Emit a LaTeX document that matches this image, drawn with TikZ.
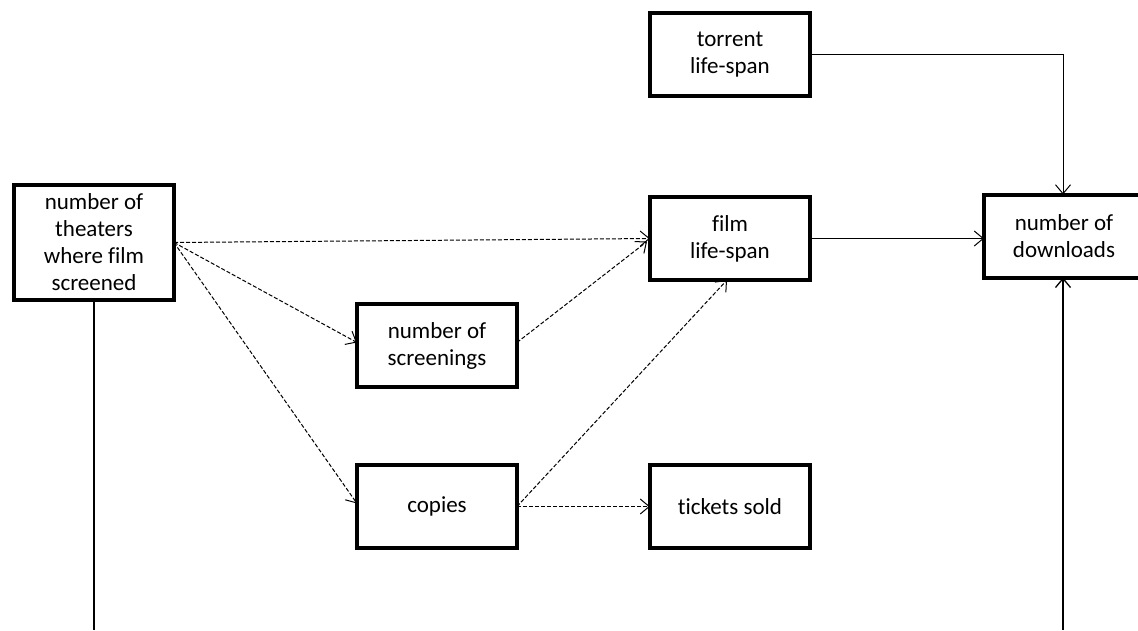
\documentclass[tikz,border=0pt]{standalone}
\usepackage{fontspec}
\setmainfont{Carlito}[Ligatures=NoCommon]
\usetikzlibrary{arrows.meta,positioning}

\begin{document}
\begin{tikzpicture}
\tikzstyle{block}=[rectangle, draw=black, line width=4pt, outer sep=0pt,
	inner sep=2pt, minimum width=160pt, minimum height=83pt, align=center,
	font=\fontsize{23}{27}\selectfont
]
\tikzstyle{flow}=[line width=1pt, -{Straight Barb[length=9pt,width=15pt]}]
\tikzstyle{dflow}=[flow, dash pattern=on 4pt off 2pt]
\useasboundingbox (0,0) rectangle (1138pt,-630pt);
\clip (0,0) rectangle (1138pt,-630pt);
\node[block,minimum height=115pt] (theaters) at (94pt,-242.5pt) {number of\\theaters\\where film\\screened};
\node[block,right=476pt of theaters,yshift=4pt] (film) {film\\life-span};
\node[block,above=101pt of film] (torrent) {torrent\\life-span};
\node[block,right=174pt of film,yshift=2.5pt] (downloads) {number of\\downloads};
\node[block,below=185pt of film] (tickets) {tickets sold};
\node[block,left=133pt of tickets] (copies) {copies};
\node[block,above=78pt of copies] (screenings) {number of\\screenings};
\coordinate (outL) at (theaters.south |- 0,-630pt);
\coordinate (outR) at (1063pt,-630pt);
\draw[dflow] (theaters.east) -- (film.west);
\draw[dflow] (theaters.east) -- ([yshift=3pt]screenings.west);
\draw[dflow] (theaters.east) -- ([yshift=3pt]copies.west);
\draw[dflow] ([yshift=3pt]screenings.east) -- ([xshift=-3pt,yshift=-3pt]film.west);
\draw[dflow] (copies.east) -- ([xshift=-3pt]film.south);
\draw[dflow] (copies.east) -- (tickets.west);
\draw[flow] (film.east) -- (film.east -| downloads.west);
\draw[flow] (torrent.east) -| ([xshift=-1pt]downloads.north);
\draw[line width=1.3pt] (theaters.south) -- (outL);
\draw[flow,line width=1.3pt] (outR) -- (outR |- downloads.south);

\end{tikzpicture}
\end{document}
